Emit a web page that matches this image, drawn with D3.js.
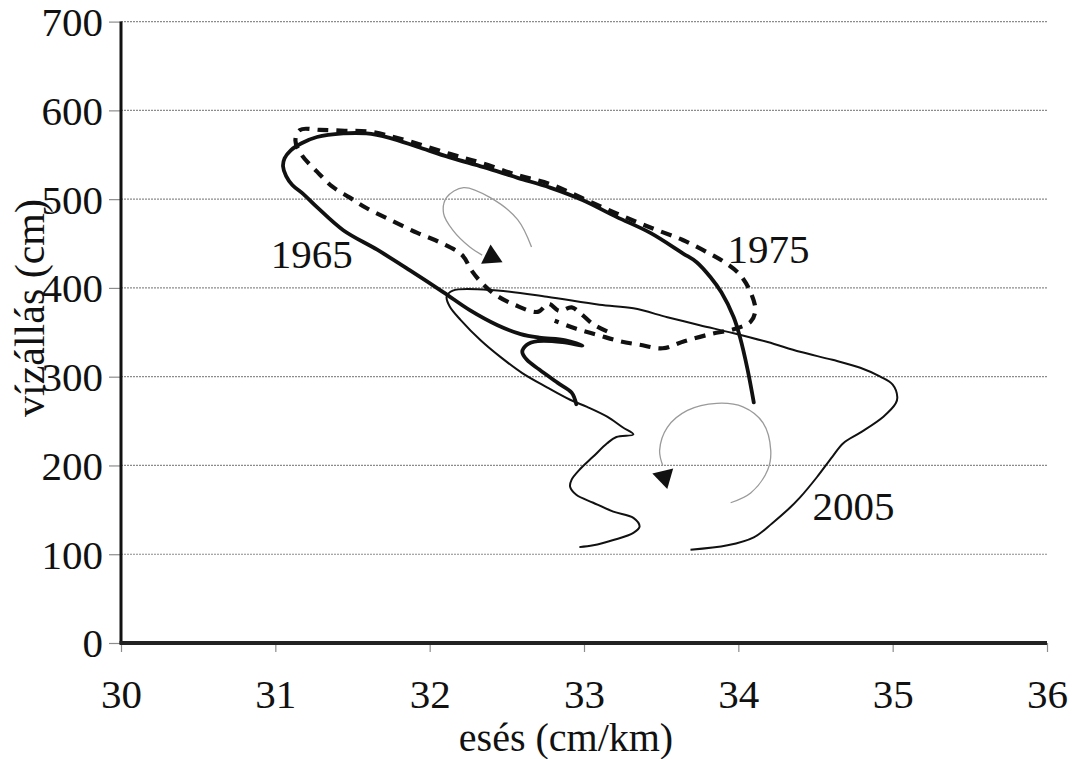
<!DOCTYPE html>
<html>
<head>
<meta charset="utf-8">
<script src="https://cdn.jsdelivr.net/npm/d3@7"></script>
<style>
  html, body { margin: 0; padding: 0; background: #fff; }
  svg { display: block; }
  svg text { font-family: 'Liberation Serif', 'DejaVu Serif', serif !important; fill: #111; }
</style>
</head>
<body>
<svg id="chart" width="1075" height="759"></svg>
<script>
// Axis ticks
const xTicks = [30, 31, 32, 33, 34, 35, 36];
const yTicks = [0, 100, 200, 300, 400, 500, 600, 700];

// 1965 hysteresis loop: slope (cm/km) vs. stage (cm)
const slope1965 = [34.10, 34.06, 34.01, 33.97, 33.89, 33.82, 33.73, 33.64, 33.43, 33.21, 32.99, 32.78, 32.57, 32.35, 32.13, 31.92, 31.74, 31.59, 31.44, 31.27, 31.17, 31.10, 31.06, 31.05, 31.07, 31.11, 31.18, 31.27, 31.44, 31.66, 31.87, 32.09, 32.26, 32.44, 32.59, 32.71, 32.88, 32.99, 32.86, 32.70, 32.63, 32.60, 32.63, 32.71, 32.83, 32.92, 32.95];
const stage1965 = [271, 308, 345, 367, 395, 412, 429, 439, 462, 480, 499, 513, 524, 536, 547, 559, 569, 574, 574, 570, 563, 555, 546, 537, 526, 516, 506, 491, 465, 443, 420, 395, 375, 358, 348, 344, 341, 335, 339, 340, 336, 328, 319, 308, 293, 282, 269];

// 1975 loop
const slope1975 = [33.15, 33.06, 32.98, 32.92, 32.84, 32.77, 32.70, 32.55, 32.42, 32.33, 32.27, 32.21, 32.07, 31.92, 31.74, 31.59, 31.48, 31.37, 31.27, 31.17, 31.13, 31.16, 31.29, 31.45, 31.61, 31.81, 32.13, 32.35, 32.57, 32.78, 32.99, 33.21, 33.43, 33.64, 33.80, 33.91, 34.01, 34.08, 34.11, 34.08, 33.98, 33.82, 33.65, 33.51, 33.36, 33.23, 33.09, 32.95, 32.81];
const stage1975 = [351, 359, 371, 378, 374, 382, 373, 381, 393, 407, 420, 437, 451, 462, 477, 490, 502, 514, 531, 550, 566, 578, 578, 577, 576, 568, 551, 540, 527, 517, 501, 484, 468, 454, 440, 429, 415, 395, 375, 362, 354, 348, 340, 332, 336, 340, 347, 354, 363];

// 2005 loop
const slope2005 = [32.97, 33.06, 33.19, 33.32, 33.36, 33.32, 33.19, 33.06, 32.95, 32.91, 32.92, 32.97, 33.06, 33.15, 33.21, 33.32, 33.25, 33.15, 33.02, 32.91, 32.76, 32.60, 32.46, 32.33, 32.20, 32.13, 32.11, 32.15, 32.44, 32.76, 33.10, 33.32, 33.54, 33.75, 33.97, 34.19, 34.40, 34.61, 34.79, 34.92, 35.00, 35.03, 35.02, 34.94, 34.79, 34.68, 34.61, 34.51, 34.40, 34.32, 34.22, 34.10, 33.93, 33.69];
const stage2005 = [108, 110, 116, 124, 131, 141, 148, 158, 167, 176, 184, 195, 210, 225, 232, 235, 243, 255, 266, 274, 288, 304, 322, 341, 364, 379, 390, 397, 397, 390, 381, 377, 367, 358, 349, 339, 328, 319, 310, 300, 291, 277, 270, 255, 237, 225, 210, 187, 164, 150, 135, 119, 110, 105];

// Direction-of-travel arcs
const arcUpperX = [32.66, 32.57, 32.39, 32.22, 32.11, 32.09, 32.15, 32.26, 32.34];
const arcUpperY = [446, 477, 502, 513, 502, 484, 465, 446, 437];
const arcLowerX = [33.95, 34.08, 34.19, 34.21, 34.16, 34.03, 33.86, 33.67, 33.54, 33.49, 33.51];
const arcLowerY = [158, 169, 195, 217, 248, 266, 270, 262, 243, 217, 200];
const arrowHeads = [
  { x: 32.40, y: 435, rot: -4 },
  { x: 33.52, y: 187, rot: 166 }
];

// Year labels
const yearLabels = [
  { text: "1965", x: 30.97, y: 422 },
  { text: "1975", x: 33.93, y: 428 },
  { text: "2005", x: 34.48, y: 139 }
];

const FONT = "'Liberation Serif', 'DejaVu Serif', serif";

const svg = d3.select("#chart");
const x = d3.scaleLinear().domain([30, 36]).range([121, 1047]);
const y = d3.scaleLinear().domain([0, 700]).range([643, 21.6]);

// Horizontal gridlines
svg.append("g")
  .selectAll("line")
  .data(yTicks.filter(d => d > 0))
  .join("line")
  .attr("x1", x(30)).attr("x2", x(36))
  .attr("y1", d => y(d)).attr("y2", d => y(d))
  .attr("stroke", "#8c8c8c")
  .attr("stroke-width", 1.2)
  .attr("stroke-dasharray", "2,1");

// Y axis
const yAxis = svg.append("g")
  .attr("transform", `translate(${x(30)},0)`)
  .call(d3.axisLeft(y).tickValues(yTicks).tickSize(12).tickPadding(6).tickFormat(d3.format("d")));
yAxis.attr("font-family", FONT);
yAxis.select(".domain").remove();
yAxis.selectAll(".tick line").attr("stroke", "#8c8c8c").attr("stroke-width", 1.2);
yAxis.selectAll(".tick text")
  .style("font-family", FONT)
  .style("font-size", "41px")
  .attr("fill", "#111")
  .attr("dy", "0.34em");

// X axis
const xAxis = svg.append("g")
  .attr("transform", `translate(0,${y(0)})`)
  .call(d3.axisBottom(x).tickValues(xTicks).tickSize(9).tickPadding(27).tickFormat(d3.format("d")));
xAxis.attr("font-family", FONT);
xAxis.select(".domain").remove();
xAxis.selectAll(".tick line").attr("stroke", "#8c8c8c").attr("stroke-width", 1.2);
xAxis.selectAll(".tick text")
  .style("font-family", FONT)
  .style("font-size", "41px")
  .attr("fill", "#111")
  .attr("dy", "0.71em");

// Axis lines
svg.append("line")
  .attr("x1", x(30)).attr("x2", x(30))
  .attr("y1", y(700)).attr("y2", y(0) + 1)
  .attr("stroke", "#111").attr("stroke-width", 3);
svg.append("line")
  .attr("x1", x(30) - 1.5).attr("x2", x(36))
  .attr("y1", y(0)).attr("y2", y(0))
  .attr("stroke", "#222").attr("stroke-width", 4);

// Axis titles
svg.append("text")
  .attr("x", 566).attr("y", 751)
  .attr("text-anchor", "middle")
  .style("font-family", FONT)
  .style("font-size", "40px")
  .text("esés (cm/km)");
svg.append("text")
  .attr("transform", "translate(44,308) rotate(-90)")
  .attr("text-anchor", "middle")
  .style("font-family", FONT)
  .style("font-size", "42px")
  .text("vízállás (cm)");

const line = d3.line()
  .x(d => x(d[0]))
  .y(d => y(d[1]))
  .curve(d3.curveCatmullRom.alpha(0.5));

const zip = (a, b) => a.map((v, i) => [v, b[i]]);

// Direction arcs
svg.append("path")
  .attr("d", line(zip(arcUpperX, arcUpperY)))
  .attr("fill", "none").attr("stroke", "#9a9a9a").attr("stroke-width", 1.3);
svg.append("path")
  .attr("d", line(zip(arcLowerX, arcLowerY)))
  .attr("fill", "none").attr("stroke", "#9a9a9a").attr("stroke-width", 1.3);
svg.append("g")
  .selectAll("path")
  .data(arrowHeads)
  .join("path")
  .attr("d", d3.symbol(d3.symbolTriangle, 200)())
  .attr("transform", d => `translate(${x(d.x)},${y(d.y)}) rotate(${d.rot})`)
  .attr("fill", "#111");

// 2005 (thin solid)
svg.append("path")
  .attr("d", line(zip(slope2005, stage2005)))
  .attr("fill", "none").attr("stroke", "#111")
  .attr("stroke-width", 2).attr("stroke-linejoin", "round");

// 1965 (thick solid)
svg.append("path")
  .attr("d", line(zip(slope1965, stage1965)))
  .attr("fill", "none").attr("stroke", "#111")
  .attr("stroke-width", 3.8).attr("stroke-linejoin", "round").attr("stroke-linecap", "round");

// 1975 (thick dashed)
svg.append("path")
  .attr("d", line(zip(slope1975, stage1975)))
  .attr("fill", "none").attr("stroke", "#111")
  .attr("stroke-width", 4.2).attr("stroke-dasharray", "11,8");

// Year labels
svg.append("g")
  .selectAll("text")
  .data(yearLabels)
  .join("text")
  .attr("x", d => x(d.x))
  .attr("y", d => y(d.y))
  .style("font-family", FONT)
  .style("font-size", "41px")
  .text(d => d.text);
</script>
</body>
</html>
